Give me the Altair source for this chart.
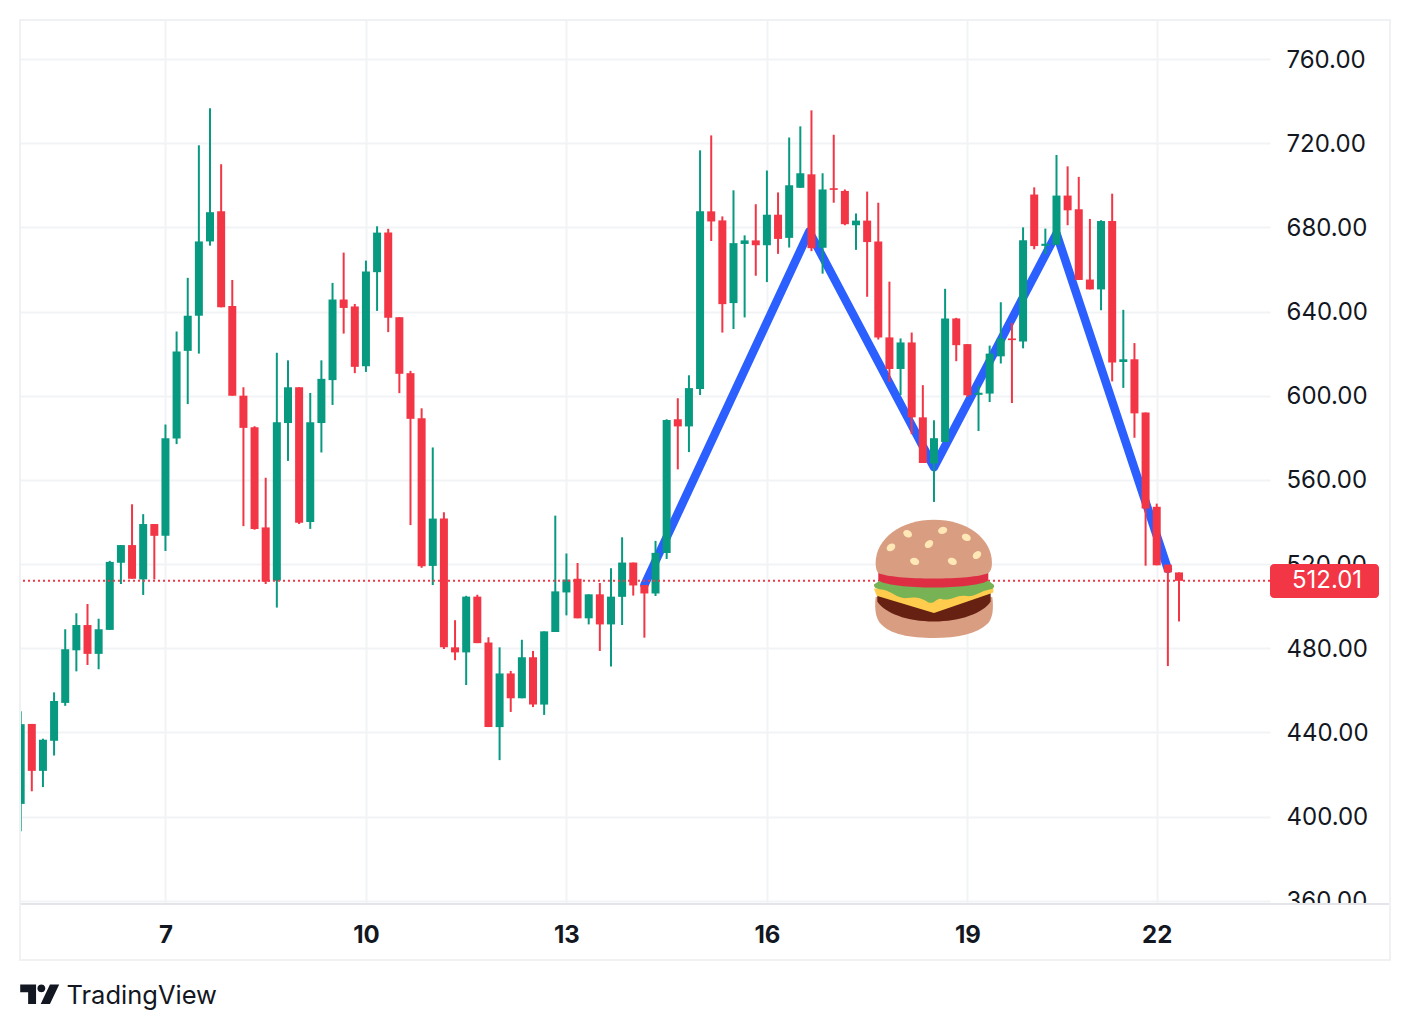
import re
import math
import altair as alt
import pandas as pd

# ---- candle values (open, high, low, close)
opens = [406,444,421.7,436,454,479,491,477.3,488.7,520.6,529,512.7,539,533.4,579.6,621.3,638,673.3,687.7,642.6,
         600,585,537.4,512,587,604,540,587,607.4,645.7,642.4,614,658.7,677.5,637.3,610.7,589.3,519.1,541.6,480.4,
         478,504.5,482.7,442.5,468,456.2,475.7,453.2,487.7,506.5,513,494.2,505.6,491.3,504.4,520.7,510,506,525.2,588.8,
         585.4,603.2,687.6,683.3,644,672.1,673.8,671.5,686,675,698.8,705.2,670.3,698.6,697.3,681,683.2,673.3,627.7,612.7,
         625.3,589.7,567.8,578,636.7,624.5,600.4,601,618.7,627.2,625.8,695.6,671.2,671.7,695.1,688.6,655.2,650.5,683,616,
         617.3,592,547.2,519.7,516]
highs = [450,444,437,459,489,496.6,501,494,521.5,529,548.4,543.7,539,586.3,630.5,656,719,736.6,710,655,
         604,585.5,561,620.4,616.8,604,601.3,616.8,653.6,668,643.6,664.2,680.5,679.3,637.3,611.8,594,575.4,544.6,493.3,
         504.9,505.4,485.2,480.4,469.2,484,478.7,488,543,525,520.5,505.6,511,518,532.7,520.7,510,531,588.8,598.8,
         609.7,716.6,723.7,685.2,697.6,676.2,691,707,696.6,722.7,728,735.6,705.7,724,698,686.6,697,691.7,654.2,627.2,
         630,605,588.3,650.8,637,624.5,604.8,623.8,644.4,634.6,680,699,679.4,714.4,709,704,684,683.4,696,640.8,
         625,592,548.7,519.7,516]
lows = [393,412,414,429,452.6,469,472,470,488.7,510.5,513,505.3,512.7,526.2,577,596,620,671.3,642,600,
        538,536.3,510.5,499.3,569,539,536.7,573,595.6,629.5,610.7,611.3,640.3,630.2,601.2,538.5,518.2,510,479.6,474.3,
        462.5,482.4,442.5,426.8,449.7,456.2,452,448.3,487.7,495.6,494.2,491.3,478.7,471.3,491,505,485,504.8,522.4,565,
        573.2,600.3,673.5,630,631.7,637.2,657,654,667.4,670.4,698.8,668.7,658,691.7,681,669.3,647,626.7,606.6,600.3,
        581.7,568,549.5,578,616.4,599.4,583.2,597,615.3,596.5,622.5,669.6,667.3,671.7,681,655,650.5,640.6,606.8,603.7,
        580,519.2,519.4,471.5,492.7]
closes = [443.9,421.7,436.5,454.9,479.5,491,477.3,489,521,529,513,539,533.4,579.8,621,638,673.3,687.2,642,600,
          584.7,536.7,511.6,587.4,604,539.6,587.4,608,645.7,641.7,613.7,659,677.5,637,610.4,589,519,541.6,480.4,478,
          504.5,482.4,442.5,468,456.2,475.7,453.2,488,507,512.6,494.2,505.6,491.3,504.5,520.7,509.8,506,525.3,588.5,585.4,
          603.6,687.6,682.8,643.5,672.5,673.8,671.5,686,674.5,700,705.7,670.1,698,697.8,681.5,683.2,673,627.7,612.7,625.3,
          589.7,568,579.8,636.7,624,600.2,601.4,620,627.2,626.4,673.9,671.1,672.2,695.1,688.1,655,650.5,683,615.8,617.3,
          591.6,546.4,519.4,516,512.01]

# ---- overlay pattern line (candle number, price)
pattern_idx = [56, 70.8, 82, 93, 103]
pattern_price = [510, 678, 566, 677, 517.6]

last_price = [512.01]
burger_idx = [82]
burger_price = [513]

# ---- axis labels
price_ticks = [360, 400, 440, 480, 520, 560, 600, 640, 680, 720, 760]
time_tick_idx = [13, 31, 49, 67, 85, 102]
time_tick_labels = ["7", "10", "13", "16", "19", "22"]

RED = "#f23645"
GREEN = "#089981"
BLUE = "#2b5fff"
GRID = "#f2f3f5"
FRAME = "#f0f1f3"
INK = "#131722"
FONT = "Inter"

df = pd.DataFrame({"i": list(range(len(opens))), "o": opens, "h": highs, "l": lows, "c": closes})
df["dir"] = ["up" if c >= o else "down" for o, c in zip(opens, closes)]

xs = alt.Scale(domain=[-0.06, 112.17], nice=False, zero=False, padding=0)
ys = alt.Scale(domain=[358.43, 778.54], nice=False, zero=False, padding=0)

label_expr = "[{}][indexof([{}], datum.value)]".format(
    ",".join("'%s'" % t for t in time_tick_labels), ",".join(str(t) for t in time_tick_idx))

x_axis = alt.Axis(
    values=time_tick_idx, labelExpr=label_expr, grid=True, gridColor=GRID, gridWidth=2,
    domain=False, ticks=False, labelFont=FONT, labelFontSize=24, labelFontWeight=700,
    labelColor=INK, labelPadding=19, labelOverlap=False, labelFlush=False)
y_axis = alt.Axis(
    orient="right", values=price_ticks, format=".2f", grid=True, gridColor=GRID, gridWidth=2,
    domain=False, ticks=False, labelFont=FONT, labelFontSize=24, labelColor=INK,
    labelPadding=16, labelOffset=1, labelOverlap=False, labelFlush=False)

X = alt.X("i:Q", scale=xs, axis=x_axis, title=None)


def Yf(field):
    return alt.Y(field + ":Q", scale=ys, axis=y_axis, title=None)


Y = Yf("y")
colour = alt.Color("dir:N", scale=alt.Scale(domain=["up", "down"], range=[GREEN, RED]), legend=None)

pattern = alt.Chart(pd.DataFrame({"i": pattern_idx, "y": pattern_price})).mark_line(
    color=BLUE, strokeWidth=8.5, strokeCap="round", strokeJoin="round").encode(x=X, y=Y)

wicks = alt.Chart(df).mark_rule(strokeWidth=2, clip=True).encode(
    x=X, y=Yf("l"), y2="h:Q", color=colour)

bodies = alt.Chart(df).mark_bar(size=8, clip=True).encode(
    x=X, y=Yf("o"), y2="c:Q", color=colour)

price_df = pd.DataFrame({"y": last_price})
dotted = alt.Chart(price_df).mark_rule(color=RED, strokeWidth=2, strokeDash=[2, 3]).encode(y=Y)

# hides the lower half of the bottom price label, as the time scale does in the original
cover = alt.Chart(price_df).mark_rect(color="white").encode(
    x=alt.value(1250), x2=alt.value(1370), y=alt.value(885), y2=alt.value(925))

price_box = alt.Chart(price_df).mark_rect(color=RED, cornerRadius=4).encode(
    x=alt.value(1250), x2=alt.value(1359), y=alt.value(544), y2=alt.value(578))
price_text = alt.Chart(price_df).mark_text(
    color="white", font=FONT, fontSize=24, align="center", baseline="middle").encode(
    x=alt.value(1307), y=Y, text=alt.Text("y:Q", format=".2f"))


# ---- burger glyph, outlined in a 1:1 crop and normalised to the unit box of a point shape
def unit(d, cx, cy, half):
    def sub(m):
        return "%.4f,%.4f" % ((float(m.group(1)) - cx) / half, (float(m.group(2)) - cy) / half)
    return re.sub(r"(-?[\d.]+),(-?[\d.]+)", sub, d)


def seed(cx, cy, rot, rx=14, ry=10.5, n=16):
    a = math.radians(rot)
    pts = []
    for k in range(n):
        t = 2 * math.pi * k / n
        ex, ey = rx * math.cos(t), ry * math.sin(t)
        pts.append("%.1f,%.1f" % (cx + ex * math.cos(a) - ey * math.sin(a),
                                  cy + ex * math.sin(a) + ey * math.cos(a)))
    return "M" + " L".join(pts) + " Z"


burger_parts = [
    ("#d99e82", "M47,262 L397,262 C402,300 397,325 385,340 "
                "C350,375 290,385 222,385 C150,385 90,375 60,340 C48,325 43,300 47,262 Z"),
    ("#662113", "M52,250 L392,250 L392,275 C370,310 300,335 222,335 C140,335 75,310 52,275 Z"),
    ("#ffcc4d", "M42,236 L400,234 L400,248 L390,252 L222,310 L50,258 Z"),
    ("#77b255", "M42,224 L60,212 L385,212 L402,226 C405,235 395,240 385,240 C360,245 340,265 315,258 "
                "C290,255 270,275 245,268 C230,262 225,285 205,278 C180,262 165,262 140,265 "
                "C115,268 95,245 70,240 C55,238 40,235 42,224 Z"),
    ("#dd2e44", "M55,178 L385,178 L385,212 C340,240 100,240 55,212 Z"),
    ("#d99e82", "M47,160 C47,85 125,30 222,30 C320,30 396,85 396,160 C396,175 392,185 385,190 "
                "C340,212 100,212 55,190 C50,185 47,175 47,160 Z"),
    ("#ffe8b6", " ".join([seed(93, 113, -35), seed(143, 72, 30), seed(207, 103, -40), seed(248, 62, -15),
                          seed(319, 83, 25), seed(351, 136, -40), seed(277, 155, 25), seed(164, 155, 20)])),
]
burger_df = pd.DataFrame({"i": burger_idx, "y": burger_price})
burger = [
    alt.Chart(burger_df).mark_point(
        shape=unit(d, 222, 207, 180), filled=True, size=120 ** 2, color=c, opacity=1, strokeWidth=0
    ).encode(x=X, y=Y)
    for c, d in burger_parts
]

axis_line = alt.Chart(price_df).mark_rule(color="#e4e5e8", strokeWidth=2).encode(
    x=alt.value(0), x2=alt.value(1370), y=alt.value(884))
frame = alt.Chart(price_df).mark_rect(fillOpacity=0, stroke=FRAME, strokeWidth=2).encode(
    x=alt.value(0), x2=alt.value(1370), y=alt.value(0), y2=alt.value(940))

logo_path = unit("M60,313 L108,313 L108,372 L84,372 L84,337 L60,337 Z "
                 "M136,325 L135,330 L131,335 L124,337 L117,335 L113,330 L112,325 L113,320 L117,315 L124,313 "
                 "L131,315 L135,320 Z M150,313 L178,313 L150,372 L122,372 Z", 119, 342, 59)
logo = alt.Chart(price_df).mark_point(
    shape=logo_path, filled=True, size=39 ** 2, color=INK, opacity=1, strokeWidth=0
).encode(x=alt.value(19.7), y=alt.value(974))
logo_text = alt.Chart(price_df).mark_text(
    text="TradingView", font=FONT, fontSize=25.5, color=INK, align="left", baseline="middle"
).encode(x=alt.value(46.5), y=alt.value(976))

chart = alt.layer(
    pattern, wicks, bodies, dotted, cover, price_box, price_text, *burger,
    axis_line, frame, logo, logo_text
).properties(
    width=1250, height=884, background="white",
    autosize=alt.AutoSizeParams(type="none"),
    padding={"left": 12, "top": 12, "right": 130, "bottom": 110},
).configure_view(stroke=None)

chart.save("out.html", embed_options={"renderer": "svg", "actions": False})
